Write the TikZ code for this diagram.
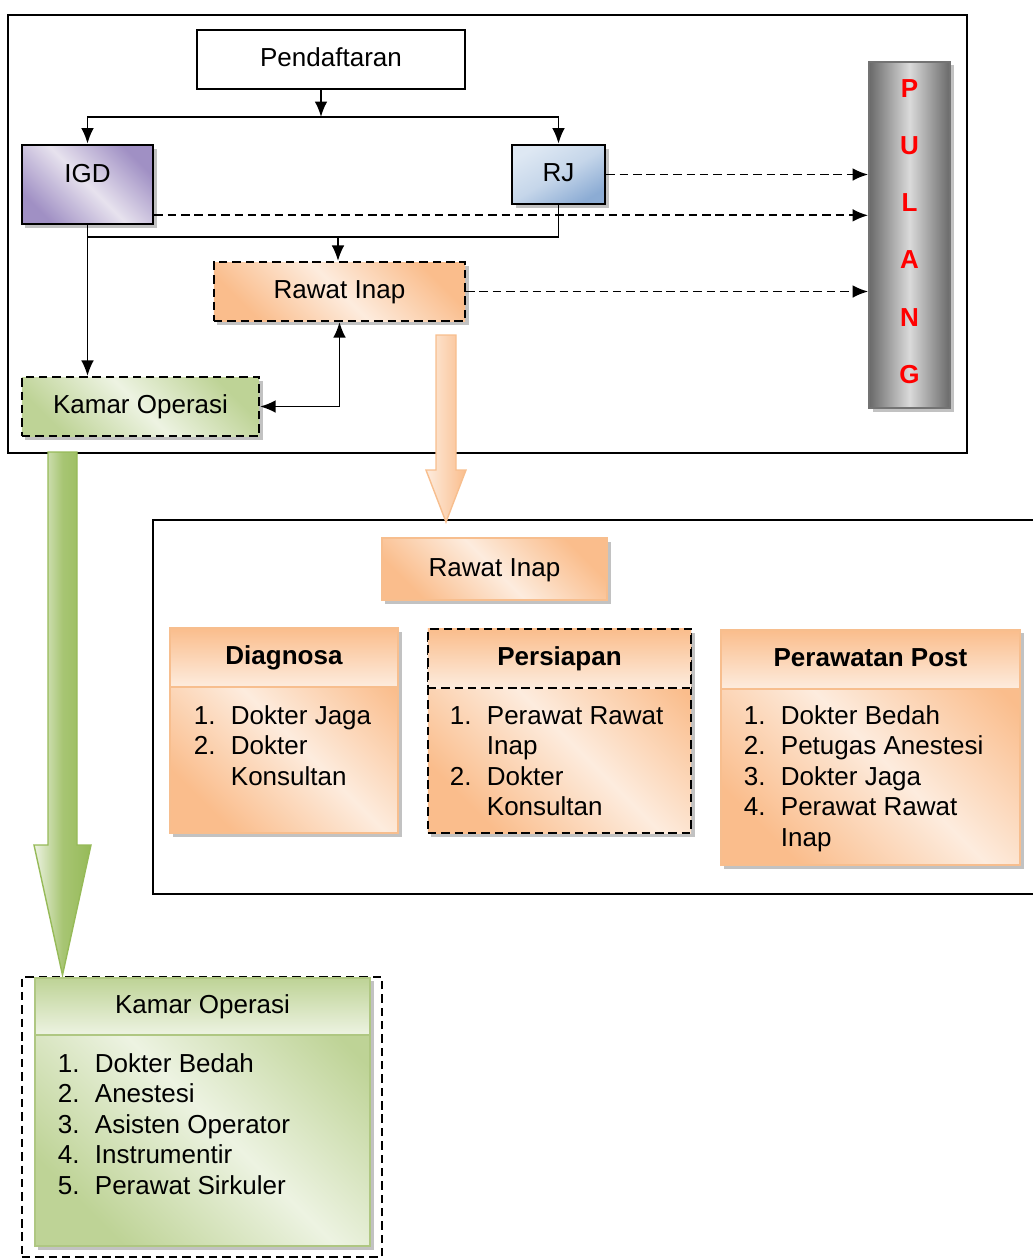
\documentclass[tikz,border=0pt]{standalone}
\usepackage{fontspec}
\setmainfont{Liberation Sans}
\usetikzlibrary{arrows.meta,calc,positioning,shadows}

\definecolor{igdDark}{RGB}{160,144,196}
\definecolor{igdLight}{RGB}{231,226,238}
\definecolor{rjDark}{RGB}{140,172,212}
\definecolor{rjLight}{RGB}{222,232,243}
\definecolor{orDark}{RGB}{250,189,140}
\definecolor{orLight}{RGB}{253,236,222}
\definecolor{orLine}{RGB}{247,190,142}
\definecolor{grDark}{RGB}{190,211,150}
\definecolor{grLight}{RGB}{237,243,226}
\definecolor{grLine}{RGB}{175,199,130}
\definecolor{grArrow}{RGB}{150,186,88}
\definecolor{pulDark}{RGB}{105,105,105}
\definecolor{pulLight}{RGB}{218,218,218}

\newcommand{\figfont}{\fontsize{18.5}{21.7}\selectfont}
\def\listsep{0.925cm}
\newcommand{\itemlist}[1]{\begin{tabular}[t]{@{}p{\listsep}@{}l@{}}#1\end{tabular}}

\begin{document}
\begin{tikzpicture}[x=0.025cm, y=-0.025cm, >={Latex[length=11pt,width=9pt]}, line width=1.3pt, font=\figfont]
    \tikzstyle{box}=[rectangle, inner sep=0pt, text height=13.5pt, text depth=3.5pt, align=center]
    \tikzstyle{shadowed}=[drop shadow={shadow xshift=2.5pt, shadow yshift=-2.5pt, opacity=.4, fill=black!60}]
    \tikzstyle{dashline}=[dash pattern=on 6pt off 3.5pt]
    \tikzstyle{plain box}=[box, draw=black, line width=1.4pt, fill=white]
    \tikzstyle{igd box}=[box, shadowed, draw=black, line width=1.9pt, top color=igdDark, bottom color=igdDark, middle color=igdLight, shading angle=-45]
    \tikzstyle{rj box}=[box, shadowed, draw=black, line width=1.9pt, top color=rjLight, bottom color=rjDark, middle color=rjLight!70!rjDark, shading angle=30]
    \tikzstyle{pulang box}=[box, shadowed, draw=black!55, line width=1.2pt, left color=pulDark, right color=pulDark, middle color=pulLight]
    \tikzstyle{pulang letter}=[box, text=red, font=\figfont\bfseries]
    \tikzstyle{ri small}=[box, shadowed, draw=black, dashline, line width=1.5pt, top color=orDark, bottom color=orDark, middle color=orLight, shading angle=-45]
    \tikzstyle{ko small}=[box, shadowed, draw=black, dashline, line width=1.5pt, top color=grDark, bottom color=grDark, middle color=grLight, shading angle=-45]
    \tikzstyle{or body}=[box, shadowed, draw=orLine, line width=1pt, top color=orDark, bottom color=orDark, middle color=orLight, shading angle=-45]
    \tikzstyle{or band}=[box, draw=orLine, line width=1pt, top color=orDark, bottom color=orLight, font=\figfont\bfseries]
    \tikzstyle{or header}=[box, shadowed, draw=orLine, line width=1pt, top color=orDark, bottom color=orDark, middle color=orLight, shading angle=-45]
    \tikzstyle{gr body}=[box, shadowed, draw=grLine, line width=1pt, top color=grDark, bottom color=grDark, middle color=grLight, shading angle=-45]
    \tikzstyle{gr band}=[box, draw=grLine, line width=1pt, top color=grDark, bottom color=grLight]
    \tikzstyle{list}=[inner sep=0pt, anchor=base west]

    \useasboundingbox (0,0) rectangle (1033,1259);
    \clip (0,0) rectangle (1033,1259);

    % Draw the two frames
    \draw[line width=1pt] (8,15) rectangle (967,453);
    \draw[line width=1pt] (153,520) rectangle (1045,894);

    % Draw the registration and the first units
    \node[plain box, minimum width=6.7cm, minimum height=1.475cm] (pend) at (331,59.5) {Pendaftaran};
    \node[igd box, minimum width=3.275cm, minimum height=1.975cm, text height=0.5cm, text depth=0.6cm] (igd) at (87.5,184.5) {IGD};
    \node[rj box, minimum width=2.325cm, minimum height=1.475cm] (rj) at (558.5,174.5) {RJ};
    \node[ri small, minimum width=6.275cm, minimum height=1.475cm] (ri) at (339.5,291.5) {Rawat Inap};
    \node[ko small, minimum width=5.925cm, minimum height=1.475cm] (ko) at (140.5,406.5) {Kamar Operasi};

    % Draw the exit column
    \node[pulang box, minimum width=2.025cm, minimum height=8.65cm] (pulang) at (909.5,235) {};
    \foreach \letter [count=\i] in {P,U,L,A,N,G}
        \node[pulang letter] (pulang-\i) at (909.5,{33+57.2*\i}) {\letter};

    % Connect registration with IGD and RJ
    \coordinate (split) at (321,117);
    \draw[->] (pend.south -| split) -- (split);
    \draw[->] (split) -| (igd.north);
    \draw[->] (split) -| (rj.north);

    % Connect IGD and RJ with the wards
    \coordinate (merge) at (338,237);
    \draw (igd.south |- merge) -- (rj.south |- merge) -- (rj.south);
    \draw[->] (merge) -- (merge |- ri.north);
    \draw[->] (igd.south) -- (igd.south |- ko.north);
    \draw[<->] (ko.east) -| (ri.south);

    % Dashed ways out
    \coordinate (igd-out) at ($(igd.south east)+(0,-10)$);
    \draw[->, dashline] (rj.east) -- (rj.east -| pulang.west);
    \draw[->, dashline] (igd-out) -- (igd-out -| pulang.west);
    \draw[->, dashline] (ri.east) -- (ri.east -| pulang.west);

    % Block arrows down to the detail panels
    \coordinate (oa-top) at (446,335);
    \coordinate (oa-tip) at (446,522);
    \path[draw=orLine, line width=1pt, left color=orLight, right color=orDark]
        ($(oa-top)+(-10,0)$) -- ($(oa-top)+(10,0)$) -- ($(oa-tip)+(10,-52)$) -- ($(oa-tip)+(20,-52)$)
        -- (oa-tip) -- ($(oa-tip)+(-20,-52)$) -- ($(oa-tip)+(-10,-52)$) -- cycle;
    \coordinate (ga-top) at (62.5,452);
    \coordinate (ga-tip) at (62.5,975);
    \path[draw=grArrow, line width=1pt, left color=grLight, right color=grArrow, middle color=grArrow!80!grLight]
        ($(ga-top)+(-14.5,0)$) -- ($(ga-top)+(14.5,0)$) -- ($(ga-tip)+(14.5,-130)$) -- ($(ga-tip)+(28.5,-130)$)
        -- (ga-tip) -- ($(ga-tip)+(-28.5,-130)$) -- ($(ga-tip)+(-14.5,-130)$) -- cycle;

    % Draw the ward panels
    \node[or header, minimum width=5.625cm, minimum height=1.55cm] (ri-head) at (494.5,569) {Rawat Inap};

    \node[or body, minimum width=5.7cm, minimum height=5.125cm] (diag) at (284,730.5) {};
    \node[or band, minimum width=5.7cm, minimum height=1.475cm, anchor=north] (diag-head) at (diag.north) {Diagnosa};
    \node[list] (diag-list) at (193,724) {\itemlist{1. & Dokter Jaga\\ 2. & Dokter\\ & Konsultan}};

    \node[or body, draw=black, dashline, line width=1.5pt, minimum width=6.575cm, minimum height=5.1cm] (prep) at (559.5,731) {};
    \node[or band, draw=black, dashline, line width=1.5pt, minimum width=6.575cm, minimum height=1.475cm, anchor=north] (prep-head) at (prep.north) {Persiapan};
    \node[list] (prep-list) at (449,724) {\itemlist{1. & Perawat Rawat\\ & Inap\\ 2. & Dokter\\ & Konsultan}};

    \node[or body, minimum width=7.475cm, minimum height=5.875cm] (post) at (870.5,747.5) {};
    \node[or band, minimum width=7.475cm, minimum height=1.475cm, anchor=north] (post-head) at (post.north) {Perawatan Post};
    \node[list] (post-list) at (743,724) {\itemlist{1. & Dokter Bedah\\ 2. & Petugas Anestesi\\ 3. & Dokter Jaga\\ 4. & Perawat Rawat\\ & Inap}};

    % Draw the operating room panel
    \node[box, draw=black, dashline, line width=1.5pt, minimum width=9cm, minimum height=7cm] (ko-frame) at (202,1117) {};
    \node[gr body, minimum width=8.375cm, minimum height=6.7cm] (ko-big) at (202.5,1112) {};
    \node[gr band, minimum width=8.375cm, minimum height=1.425cm, anchor=north] (ko-head) at (ko-big.north) {Kamar Operasi};
    \node[list] (ko-list) at (57,1072) {\itemlist{1. & Dokter Bedah\\ 2. & Anestesi\\ 3. & Asisten Operator\\ 4. & Instrumentir\\ 5. & Perawat Sirkuler}};
\end{tikzpicture}
\end{document}
